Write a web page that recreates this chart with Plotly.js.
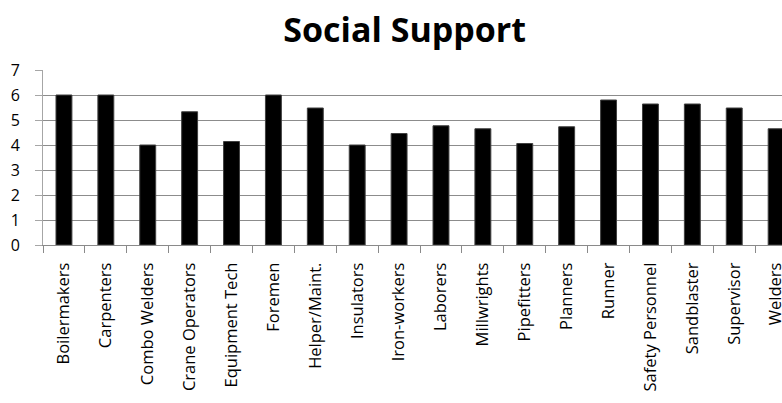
<!DOCTYPE html>
<html>
<head>
<meta charset="utf-8">
<script src="https://cdn.plot.ly/plotly-3.0.1.min.js"></script>
<style>
  html, body { margin: 0; padding: 0; background: #fff; overflow: hidden; }
  #chart { width: 782px; height: 403px; }
</style>
</head>
<body>
<div id="chart"></div>
<script>
const categories = ["Boilermakers", "Carpenters", "Combo Welders", "Crane Operators", "Equipment Tech",
  "Foremen", "Helper/Maint.", "Insulators", "Iron-workers", "Laborers", "Millwrights",
  "Pipefitters", "Planners", "Runner", "Safety Personnel", "Sandblaster", "Supervisor", "Welders"];
const values = [6.0, 6.0, 4.0, 5.33, 4.14, 6.0, 5.48, 4.0, 4.46, 4.77, 4.65, 4.06, 4.73, 5.8, 5.64, 5.64, 5.48, 4.65];
const yTicks = [0, 1, 2, 3, 4, 5, 6, 7];
const chartTitle = "Social Support";

const xLabelFont = { family: "Open Sans, sans-serif", size: 16.5, color: "#000" };
const yLabelFont = { family: "Open Sans, sans-serif", size: 16, color: "#000" };

const trace = {
  type: "bar",
  x: categories,
  y: values,
  marker: { color: "#000000", line: { color: "#404040", width: 1 } },
  hoverinfo: "x+y"
};

const layout = {
  width: 782,
  height: 403,
  margin: { l: 43, r: 0, t: 70, b: 158 },
  paper_bgcolor: "#ffffff",
  plot_bgcolor: "#ffffff",
  bargap: 0.62,
  showlegend: false,
  title: {
    text: "<b>" + chartTitle + "</b>",
    font: { family: "Open Sans, sans-serif", size: 34, color: "#000" },
    x: 0.5175,
    xanchor: "center",
    xref: "container",
    y: 0.955,
    yref: "container",
    yanchor: "top"
  },
  xaxis: {
    type: "category",
    range: [-0.5, 17.14],
    tickson: "boundaries",
    ticks: "outside",
    ticklen: 7,
    tickcolor: "#8a8a8a",
    tickwidth: 1,
    tickangle: -90,
    tickfont: xLabelFont,
    ticklabelstandoff: 10,
    showline: true,
    linecolor: "#8a8a8a",
    linewidth: 1,
    showgrid: false,
    zeroline: false,
    fixedrange: true
  },
  yaxis: {
    range: [0, 7],
    tickvals: yTicks,
    ticktext: yTicks.map(String),
    ticks: "outside",
    ticklen: 7,
    tickcolor: "#a6a6a6",
    tickwidth: 1,
    tickfont: yLabelFont,
    ticklabelstandoff: 12,
    showline: true,
    linecolor: "#a6a6a6",
    linewidth: 1,
    showgrid: true,
    gridcolor: "#8c8c8c",
    gridwidth: 1,
    zeroline: false,
    fixedrange: true
  }
};

Plotly.newPlot("chart", [trace], layout, { displayModeBar: false, staticPlot: true });
</script>
</body>
</html>
